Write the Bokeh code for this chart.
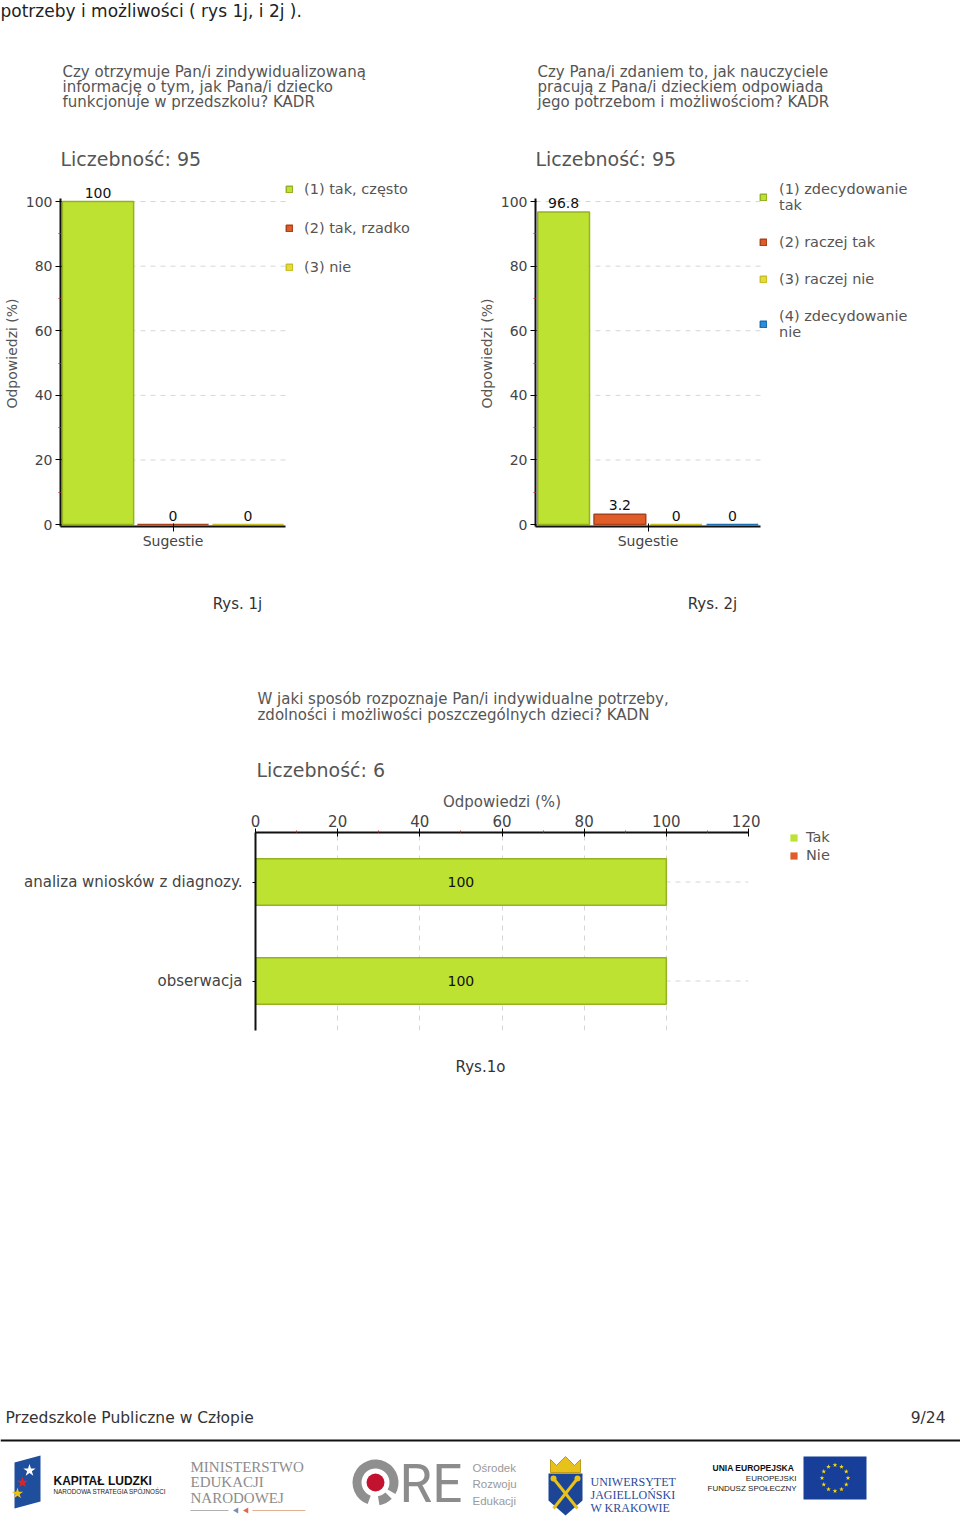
import math
from bokeh.plotting import figure
from bokeh.models import (ColumnDataSource, FactorRange, Range1d, FixedTicker,
                          LabelSet, Legend, LegendItem)
from bokeh.layouts import column, row
from bokeh.core.properties import value
from bokeh.embed import file_html
from bokeh.resources import INLINE

FONT = "DejaVu Sans"
SERIF = "Liberation Serif"
SANS2 = "Liberation Sans"

# ---------------- data ----------------
page_intro = "potrzeby i możliwości ( rys 1j, i 2j )."

rys1j_title = ["Czy otrzymuje Pan/i zindywidualizowaną",
               "informację o tym, jak Pana/i dziecko",
               "funkcjonuje w przedszkolu? KADR"]
rys1j_n = 95
rys1j_category = "Sugestie"
rys1j_labels = ["(1) tak, często", "(2) tak, rzadko", "(3) nie"]
rys1j_values = [100, 0, 0]
rys1j_caption = "Rys. 1j"

rys2j_title = ["Czy Pana/i zdaniem to, jak nauczyciele",
               "pracują z Pana/i dzieckiem odpowiada",
               "jego potrzebom i możliwościom? KADR"]
rys2j_n = 95
rys2j_category = "Sugestie"
rys2j_labels = ["(1) zdecydowanie\ntak", "(2) raczej tak", "(3) raczej nie",
                "(4) zdecydowanie\nnie"]
rys2j_values = [96.8, 3.2, 0, 0]
rys2j_caption = "Rys. 2j"

rys1o_title = ["W jaki sposób rozpoznaje Pan/i indywidualne potrzeby,",
               "zdolności i możliwości poszczególnych dzieci? KADN"]
rys1o_n = 6
rys1o_categories = ["analiza wniosków z diagnozy.", "obserwacja"]
rys1o_series = ["Tak", "Nie"]
rys1o_tak = [100, 100]
rys1o_nie = [0, 0]
rys1o_caption = "Rys.1o"

y_ticks = [0, 20, 40, 60, 80, 100]
y_minor_ticks = [10, 30, 50, 70, 90]
x_ticks_1o = [0, 20, 40, 60, 80, 100, 120]
x_minor_ticks_1o = [10, 30, 50, 70, 90, 110]
axis_title = "Odpowiedzi (%)"

footer_left = "Przedszkole Publiczne w Człopie"
footer_right = "9/24"

SERIES_FILL = ["#bde232", "#e05c28", "#e4dc3a", "#2d8fdc"]
SERIES_LINE = ["#94b222", "#a9431d", "#c9bf26", "#1d6fb2"]
GRID = "#d6d6d6"

# ---------------- page bands (page pixel rows) ----------------
HDR = (0, 180)
ROW1 = (180, 560)
BAND2 = (560, 785)
ROW3 = (785, 1040)
FOOT = (1040, 1524)
PAGE_W = 960


def text_band(y0, y1, x0=0, x1=PAGE_W):
    f = figure(width=x1 - x0, height=y1 - y0, x_range=Range1d(x0, x1),
               y_range=Range1d(y1, y0), x_axis_type=None, y_axis_type=None,
               min_border=0, output_backend="svg", toolbar_location=None)
    f.outline_line_color = None
    f.grid.visible = False
    return f


def btext(f, x, y, t, size, color="#333333", font=FONT, align="left", style="normal"):
    f.text(x=[x], y=[y], text=[t], text_font=value(font), text_font_size=size,
           text_color=color, text_align=align, text_baseline="middle",
           text_font_style=style)


def make_legend(items, loc, glyph, spacing, standoff):
    return Legend(items=items, location=loc, orientation="vertical",
                  glyph_width=glyph, glyph_height=glyph,
                  label_standoff=standoff, spacing=spacing, padding=0, margin=0,
                  label_height=14, label_width=10,
                  label_text_font=FONT, label_text_font_size="14.5px",
                  label_text_color="#555555", border_line_color=None,
                  background_fill_alpha=0)


def vbar_chart(fig_x, fig_w, FL, n, category, labels, values, bar_w,
               leg_left, leg_bottom, leg_spacing, leg_standoff):
    FT, FB = ROW1[0], 526
    pxu_x = 225 / n           # axis length 225 px split into n slots
    pxu_y = 3.23              # 100 % -> 323 px
    frame_w = fig_w - (FL - fig_x)
    p = figure(width=fig_w, height=ROW1[1] - ROW1[0],
               x_range=Range1d(0, frame_w / pxu_x),
               y_range=Range1d(-0.6, -0.6 + (FB - FT) / pxu_y),
               output_backend="svg", toolbar_location=None,
               min_border_left=FL - fig_x, min_border_right=0,
               min_border_top=0, min_border_bottom=ROW1[1] - FB)
    p.outline_line_color = None
    p.grid.visible = False

    p.yaxis.ticker = FixedTicker(ticks=y_ticks, minor_ticks=y_minor_ticks)
    p.yaxis.bounds = (-0.6, 101)
    p.yaxis.axis_label = axis_title
    p.yaxis.axis_label_text_font = FONT
    p.yaxis.axis_label_text_font_size = "14px"
    p.yaxis.axis_label_text_font_style = "normal"
    p.yaxis.axis_label_text_color = "#555555"
    p.yaxis.axis_label_standoff = 3
    p.yaxis.major_label_text_font = FONT
    p.yaxis.major_label_text_font_size = "14px"
    p.yaxis.major_label_text_color = "#444444"
    p.yaxis.major_label_standoff = 3
    p.yaxis.major_tick_out = 5
    p.yaxis.major_tick_in = 1
    p.yaxis.minor_tick_out = 2
    p.yaxis.minor_tick_in = 0
    p.yaxis.minor_tick_line_color = "#c0392b"
    p.yaxis.axis_line_width = 2
    p.yaxis.axis_line_color = "#111111"

    p.xaxis.ticker = FixedTicker(ticks=[n / 2])
    p.xaxis.major_label_overrides = {n / 2: category}
    p.xaxis.bounds = (0, n)
    p.xaxis.major_label_text_font = FONT
    p.xaxis.major_label_text_font_size = "14px"
    p.xaxis.major_label_text_color = "#444444"
    p.xaxis.major_label_standoff = 1
    p.xaxis.major_tick_out = 5
    p.xaxis.major_tick_in = 3
    p.xaxis.minor_tick_line_color = None
    p.xaxis.axis_line_width = 2
    p.xaxis.axis_line_color = "#111111"

    # dashed horizontal grid across the bar area only
    gt = y_ticks[1:]
    p.segment(x0=[0] * len(gt), x1=[n] * len(gt), y0=gt, y1=gt, line_color=GRID,
              line_dash="5 5", line_width=1, level="underlay")

    src = ColumnDataSource(dict(x=[i + 0.5 for i in range(n)], top=values,
                                txt=[f"{v:g}" for v in values],
                                fill=SERIES_FILL[:n], line=SERIES_LINE[:n]))
    r = p.vbar(x="x", top="top", bottom=0, width=bar_w, source=src,
               fill_color="fill", line_color="line", line_width=1.5)
    p.add_layout(LabelSet(x="x", y="top", text="txt", source=src, text_align="center",
                          text_baseline="middle", y_offset=9, text_font=value(FONT),
                          text_font_size="14px", text_color="#111111"))
    items = [LegendItem(label=lab, renderers=[r], index=i) for i, lab in enumerate(labels)]
    p.add_layout(make_legend(items, (leg_left - FL, FB - leg_bottom), 8,
                             leg_spacing, leg_standoff))
    return p


# ---------------- header band: intro + chart titles ----------------
hdr = text_band(*HDR)
btext(hdr, 0, 10, page_intro, "17px", "#222222")
for x0, title, n in ((62, rys1j_title, rys1j_n), (537, rys2j_title, rys2j_n)):
    for k, line in enumerate(title):
        btext(hdr, x0, 71 + 15 * k, line, "15px", "#555555")
    btext(hdr, x0 - 2, 158, f"Liczebność: {n}", "19px", "#555555")

# ---------------- charts 1j / 2j ----------------
p1 = vbar_chart(0, 475, 60, len(rys1j_values), rys1j_category, rys1j_labels,
                rys1j_values, 0.95, 285, 275, 23, 11)
p2 = vbar_chart(475, 485, 535, len(rys2j_values), rys2j_category, rys2j_labels,
                rys2j_values, 0.92, 759, 340, 21, 12)

# ---------------- captions + chart 1o titles ----------------
band2 = text_band(*BAND2)
btext(band2, 237, 603, rys1j_caption, "15px", "#333333", align="center")
btext(band2, 712, 603, rys2j_caption, "15px", "#333333", align="center")
for k, line in enumerate(rys1o_title):
    btext(band2, 257, 698 + 16 * k, line, "15px", "#555555")
btext(band2, 256, 769, f"Liczebność: {rys1o_n}", "19px", "#555555")

# ---------------- chart 1o ----------------
FL3, FR3, FT3, FB3 = 255, 748, 832, 1030
P3_W = 760
p3 = figure(width=P3_W, height=ROW3[1] - ROW3[0],
            x_range=Range1d(0, x_ticks_1o[-1]),
            y_range=FactorRange(factors=list(reversed(rys1o_categories))),
            x_axis_location="above", output_backend="svg", toolbar_location=None,
            min_border_left=FL3, min_border_right=P3_W - FR3,
            min_border_top=FT3 - ROW3[0], min_border_bottom=ROW3[1] - FB3)
p3.outline_line_color = None
p3.xgrid.ticker = FixedTicker(ticks=x_ticks_1o[1:])
p3.xgrid.grid_line_color = GRID
p3.xgrid.grid_line_dash = "5 5"
p3.ygrid.visible = False

p3.xaxis.ticker = FixedTicker(ticks=x_ticks_1o, minor_ticks=x_minor_ticks_1o)
p3.xaxis.axis_label = axis_title
p3.xaxis.axis_label_text_font = FONT
p3.xaxis.axis_label_text_font_size = "15px"
p3.xaxis.axis_label_text_font_style = "normal"
p3.xaxis.axis_label_text_color = "#555555"
p3.xaxis.axis_label_standoff = 1
p3.xaxis.major_label_text_font = FONT
p3.xaxis.major_label_text_font_size = "15px"
p3.xaxis.major_label_text_color = "#444444"
p3.xaxis.major_label_standoff = 2
p3.xaxis.major_tick_out = 4
p3.xaxis.major_tick_in = 4
p3.xaxis.minor_tick_out = 2
p3.xaxis.minor_tick_in = 0
p3.xaxis.minor_tick_line_color = "#c0392b"
p3.xaxis.axis_line_width = 2
p3.xaxis.axis_line_color = "#111111"

p3.yaxis.major_label_text_font = FONT
p3.yaxis.major_label_text_font_size = "15px"
p3.yaxis.major_label_text_color = "#444444"
p3.yaxis.major_label_standoff = 10
p3.yaxis.major_tick_out = 3
p3.yaxis.major_tick_in = 0
p3.yaxis.axis_line_width = 2
p3.yaxis.axis_line_color = "#111111"

nc = len(rys1o_categories)
p3.segment(x0=[0] * nc, x1=[x_ticks_1o[-1]] * nc, y0=rys1o_categories, y1=rys1o_categories,
           line_color=GRID, line_dash="5 5", line_width=1, level="underlay")

src3 = ColumnDataSource(dict(cat=rys1o_categories, tak=rys1o_tak, nie=rys1o_nie,
                             mid=[v / 2 for v in rys1o_tak],
                             txt=[f"{v:g}" for v in rys1o_tak]))
p3.hbar(y="cat", left=0, right="tak", height=0.47, source=src3,
        fill_color=SERIES_FILL[0], line_color=SERIES_LINE[0], line_width=1.5)
p3.hbar(y="cat", left=0, right="nie", height=0.47, source=src3,
        fill_color=SERIES_FILL[1], line_color=None)
p3.add_layout(LabelSet(x="mid", y="cat", text="txt", source=src3, text_align="center",
                       text_baseline="middle", text_font=value(FONT),
                       text_font_size="14px", text_color="#111111"))

# legend of chart 1o, beside the plot: key renderers carry the series values but
# lie outside this small panel's visible range, so only the legend keys show
leg_fig = text_band(ROW3[0], ROW3[1], P3_W, PAGE_W)
leg_renderers = []
for i, vals in enumerate((rys1o_tak, rys1o_nie)):
    leg_renderers.append(leg_fig.quad(left=[0] * len(vals), right=vals,
                                      bottom=[0] * len(vals), top=[0] * len(vals),
                                      fill_color=SERIES_FILL[i], line_color=None))
leg_fig.add_layout(make_legend(
    [LegendItem(label=s, renderers=[r]) for s, r in zip(rys1o_series, leg_renderers)],
    (789 - P3_W, ROW3[1] - 863), 9, 2, 8))

# ---------------- footer ----------------
ft = text_band(*FOOT)
btext(ft, 480, 1066, rys1o_caption, "15px", "#333333", align="center")
btext(ft, 5, 1417, footer_left, "15.5px")
btext(ft, 945, 1417, footer_right, "15.5px", align="right")
ft.segment(x0=[0], y0=[1440], x1=[960], y1=[1440], line_color="#111111", line_width=2)

# Kapitał Ludzki
ft.patch(x=[14, 40, 40, 14], y=[1462, 1455, 1501, 1508], fill_color="#1f4e9c", line_color=None)
ft.scatter(x=[29], y=[1470], marker="star", size=13, fill_color="white", line_color=None)
ft.scatter(x=[22], y=[1482], marker="star", size=12, fill_color="#d7262e", line_color=None)
ft.scatter(x=[17], y=[1493], marker="star", size=12, fill_color="#f4c20d", line_color=None)
btext(ft, 53, 1480, "KAPITAŁ LUDZKI", "12px", "#111111", SANS2, style="bold")
btext(ft, 53, 1491, "NARODOWA STRATEGIA SPÓJNOŚCI", "6.3px", "#222222", SANS2)

# MEN
for k, t in enumerate(["MINISTERSTWO", "EDUKACJI", "NARODOWEJ"]):
    btext(ft, 190, 1466 + 15.5 * k, t, "15px", "#8c8c8c", SERIF)
ft.segment(x0=[190, 252], y0=[1510, 1510], x1=[228, 305], y1=[1510, 1510],
           line_color=["#b0b0b0", "#e0b090"], line_width=1)
ft.scatter(x=[236, 246], y=[1510, 1510], marker="triangle", size=6, angle=math.pi / 2,
           fill_color=["#7a8fb0", "#d86a50"], line_color=None)

# ORE
ft.annular_wedge(x=[375, 375], y=[1482, 1482], inner_radius=14, outer_radius=23,
                 start_angle=[math.radians(-30), math.radians(-80)],
                 end_angle=[math.radians(250), math.radians(-45)],
                 fill_color="#8f8f8f", line_color=None)
ft.scatter(x=[375], y=[1482], marker="circle", size=18, fill_color="#c3122f", line_color=None)
btext(ft, 399, 1483, "RE", "53px", "#8c8c8c", "Roboto")
for k, t in enumerate(["Ośrodek", "Rozwoju", "Edukacji"]):
    btext(ft, 472, 1467 + 16.5 * k, t, "11.5px", "#9a9a9a", SANS2)

# UJ
ft.patch(x=[548, 582, 582, 565, 548], y=[1473, 1473, 1500, 1515, 1500],
         fill_color="#1d4596", line_color=None)
ft.patch(x=[550, 550, 556, 565, 574, 580, 580], y=[1472, 1459, 1465, 1456, 1465, 1459, 1472],
         fill_color="#e8c21a", line_color="#b08a00", line_width=0.8)
ft.segment(x0=[553, 577], y0=[1478, 1478], x1=[577, 553], y1=[1508, 1508],
           line_color="#e8c21a", line_width=3)
ft.scatter(x=[553, 577], y=[1478, 1478], size=6, fill_color="#e8c21a", line_color=None)
for k, t in enumerate(["UNIWERSYTET", "JAGIELLOŃSKI", "W KRAKOWIE"]):
    btext(ft, 590, 1481 + 13 * k, t, "12px", "#2a4a9a", SERIF)

# UE
btext(ft, 712, 1467, "UNIA EUROPEJSKA", "8.5px", "#111111", SANS2, style="bold")
btext(ft, 796, 1478, "EUROPEJSKI", "8px", "#222222", SANS2, align="right")
btext(ft, 796, 1488, "FUNDUSZ SPOŁECZNY", "8px", "#222222", SANS2, align="right")
ft.quad(left=[803], right=[866], top=[1456], bottom=[1499], fill_color="#173e98", line_color=None)
sx = [834.5 + 13 * math.cos(2 * math.pi * k / 12) for k in range(12)]
sy = [1477.5 + 13 * math.sin(2 * math.pi * k / 12) for k in range(12)]
ft.scatter(x=sx, y=sy, marker="star", size=5, fill_color="#ffdd00", line_color=None)

layout = column(row(hdr), row(p1, p2), row(band2), row(p3, column(leg_fig)), row(ft))
open("out.html", "w").write(file_html(layout, INLINE))
